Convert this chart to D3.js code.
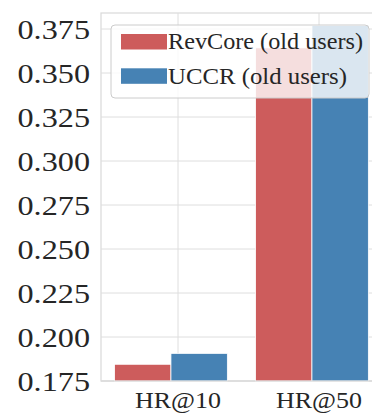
<!DOCTYPE html>
<html>
<head>
<meta charset="utf-8">
<script src="https://cdn.jsdelivr.net/npm/d3@7"></script>
<style>
  html, body { margin: 0; padding: 0; background: #fff; }
  svg { display: block; }
</style>
</head>
<body>
<svg id="chart" width="372" height="413"></svg>
<script>
// Hit-rate results for old users
const categories = ["HR@10", "HR@50"];
const seriesNames = ["RevCore (old users)", "UCCR (old users)"];
const revcoreValues = [0.1845, 0.3643];
const uccrValues = [0.1907, 0.3770];
const yTicks = [0.175, 0.200, 0.225, 0.250, 0.275, 0.300, 0.325, 0.350, 0.375];
const seriesColors = ["#cd5c5c", "#4682b4"];

const FONT = "Liberation Serif, DejaVu Serif, serif";
const TEXT_COLOR = "#262626";

const plot = { left: 101, top: 13, right: 430, bottom: 381 };

const svg = d3.select("#chart");

const x = d3.scalePoint().domain(categories).range([178, 319]);
const step = x.step();
const y = d3.scaleLinear().domain([0.175, 0.375]).range([plot.bottom, 29]);

// fit a text element to a given width (glyphs stretched, height kept)
function fitWidth(sel, w) {
  sel.attr("textLength", w).attr("lengthAdjust", "spacingAndGlyphs");
}

// plot frame
svg.append("rect")
  .attr("x", plot.left).attr("y", plot.top)
  .attr("width", plot.right - plot.left).attr("height", plot.bottom - plot.top)
  .attr("fill", "#fff").attr("stroke", "#d9d9d9").attr("stroke-width", 1.2);

// grid
const grid = svg.append("g").attr("stroke", "#dedede").attr("stroke-width", 1);
grid.selectAll("line.h").data(yTicks).join("line").attr("class", "h")
  .attr("x1", plot.left).attr("x2", plot.right)
  .attr("y1", d => y(d)).attr("y2", d => y(d));
grid.selectAll("line.v").data(categories).join("line").attr("class", "v")
  .attr("x1", d => x(d)).attr("x2", d => x(d))
  .attr("y1", plot.top).attr("y2", plot.bottom);

// bars
const rows = categories.map((c, i) => ({ cat: c, vals: [revcoreValues[i], uccrValues[i]] }));
const offsets = [-0.45, -0.05];
const barW = 0.4 * step;
const bars = svg.append("g");
rows.forEach(r => {
  r.vals.forEach((v, k) => {
    bars.append("rect")
      .attr("x", x(r.cat) + offsets[k] * step)
      .attr("y", y(v))
      .attr("width", barW)
      .attr("height", plot.bottom - y(v))
      .attr("fill", seriesColors[k])
      .attr("stroke", "#fff").attr("stroke-width", 0.8);
  });
});

// bottom spine
svg.append("line")
  .attr("x1", plot.left).attr("x2", plot.right)
  .attr("y1", plot.bottom).attr("y2", plot.bottom)
  .attr("stroke", "#d9d9d9").attr("stroke-width", 1.2);

// y tick labels
const yAxis = svg.append("g");
yTicks.forEach(t => {
  yAxis.append("text")
    .attr("x", 17.5).attr("y", y(t) + 9.5)
    .attr("font-family", FONT)
    .attr("fill", TEXT_COLOR)
    .attr("font-size", 26.5)
    .text(d3.format(".3f")(t))
    .call(fitWidth, 72.5);
});

// x tick labels
const xAxis = svg.append("g");
categories.forEach(c => {
  xAxis.append("text")
    .attr("x", x(c) - 43).attr("y", 408)
    .attr("font-family", FONT)
    .attr("fill", TEXT_COLOR)
    .attr("font-size", 23)
    .text(c)
    .call(fitWidth, 86);
});

// legend
const legend = svg.append("g");
legend.append("rect")
  .attr("x", 111).attr("y", 25).attr("width", 258).attr("height", 73)
  .attr("rx", 4).attr("ry", 4)
  .attr("fill", "#fff").attr("fill-opacity", 0.8)
  .attr("stroke", "#cccccc").attr("stroke-width", 1);
const legendWidths = [195, 179];
seriesNames.forEach((name, k) => {
  const ry = 34 + k * 34.3;
  legend.append("rect")
    .attr("x", 121).attr("y", ry).attr("width", 46).attr("height", 15.5)
    .attr("fill", seriesColors[k]);
  legend.append("text")
    .attr("x", 168).attr("y", ry + 15.3)
    .attr("font-family", FONT)
    .attr("fill", TEXT_COLOR)
    .attr("font-size", 24)
    .text(name)
    .call(fitWidth, legendWidths[k]);
});
</script>
</body>
</html>
